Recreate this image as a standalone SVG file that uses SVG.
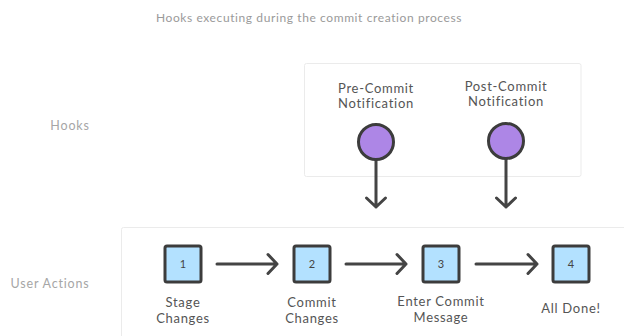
<svg xmlns="http://www.w3.org/2000/svg" width="624" height="336" viewBox="0 0 624 336">
  <style>
    .panel { fill: #ffffff; stroke: #ebebeb; stroke-width: 1; }
    .lane { font-family: "Lato", "Liberation Sans", sans-serif; font-size: 12.5px; fill: #a6a6a6; letter-spacing: 0.8px; text-anchor: middle; }
    .title { font-family: "Lato", "Liberation Sans", sans-serif; font-size: 12px; fill: #9a9a9a; letter-spacing: 0.6px; text-anchor: middle; }
    .label { font-family: "Lato", "Liberation Sans", sans-serif; font-size: 13px; fill: #555555; letter-spacing: 0.7px; text-anchor: middle; }
    .num { font-family: "Lato", "Liberation Sans", sans-serif; font-size: 11px; fill: #444444; text-anchor: middle; }
    .hook { fill: #ad86e6; stroke: #3c3c3c; stroke-width: 3; }
    .step { fill: #b3e1ff; stroke: #3c3c3c; stroke-width: 3; }
    .wire { fill: none; stroke: #444444; stroke-width: 3; stroke-linecap: round; stroke-linejoin: round; }
  </style>

  <!-- caption and swimlane names -->
  <text class="title" x="309" y="22">Hooks executing during the commit creation process</text>
  <text class="lane" x="70" y="130">Hooks</text>
  <text class="lane" x="50" y="288">User Actions</text>

  <!-- swimlane panels -->
  <rect class="panel" x="304.5" y="63.5" width="276.5" height="113" rx="2"/>
  <rect class="panel" x="121.5" y="227.5" width="520" height="130" rx="2"/>

  <!-- connectors -->
  <g id="connectors">
    <path class="wire" d="M376 159 V207 M366.5 198 L376 207 L385.5 198"/>
    <path class="wire" d="M506 159 V207 M496.5 198 L506 207 L515.5 198"/>
    <path class="wire" d="M217 264 H277 M268 254.5 L277 264 L268 273.5"/>
    <path class="wire" d="M346 264 H406 M397 254.5 L406 264 L397 273.5"/>
    <path class="wire" d="M476 264 H537 M528 254.5 L537 264 L528 273.5"/>
  </g>

  <!-- hooks -->
  <g id="pre-commit">
    <text class="label" x="376" y="93">Pre-Commit</text>
    <text class="label" x="376" y="108">Notification</text>
    <circle class="hook" cx="376" cy="142" r="17.5"/>
  </g>
  <g id="post-commit">
    <text class="label" x="506" y="91">Post-Commit</text>
    <text class="label" x="506" y="106">Notification</text>
    <circle class="hook" cx="506" cy="141" r="17.5"/>
  </g>

  <!-- user action steps -->
  <g id="step-1">
    <rect class="step" x="165" y="246" width="36" height="36" rx="2"/>
    <text class="num" x="183" y="268">1</text>
    <text class="label" x="183" y="307">Stage</text>
    <text class="label" x="183" y="323">Changes</text>
  </g>
  <g id="step-2">
    <rect class="step" x="294" y="246" width="36" height="36" rx="2"/>
    <text class="num" x="312" y="268">2</text>
    <text class="label" x="312" y="307">Commit</text>
    <text class="label" x="312" y="323">Changes</text>
  </g>
  <g id="step-3">
    <rect class="step" x="423" y="246" width="36" height="36" rx="2"/>
    <text class="num" x="441" y="268">3</text>
    <text class="label" x="441" y="306">Enter Commit</text>
    <text class="label" x="441" y="322">Message</text>
  </g>
  <g id="step-4">
    <rect class="step" x="553" y="246" width="36" height="36" rx="2"/>
    <text class="num" x="571" y="268">4</text>
    <text class="label" x="571" y="313">All Done!</text>
  </g>
</svg>
